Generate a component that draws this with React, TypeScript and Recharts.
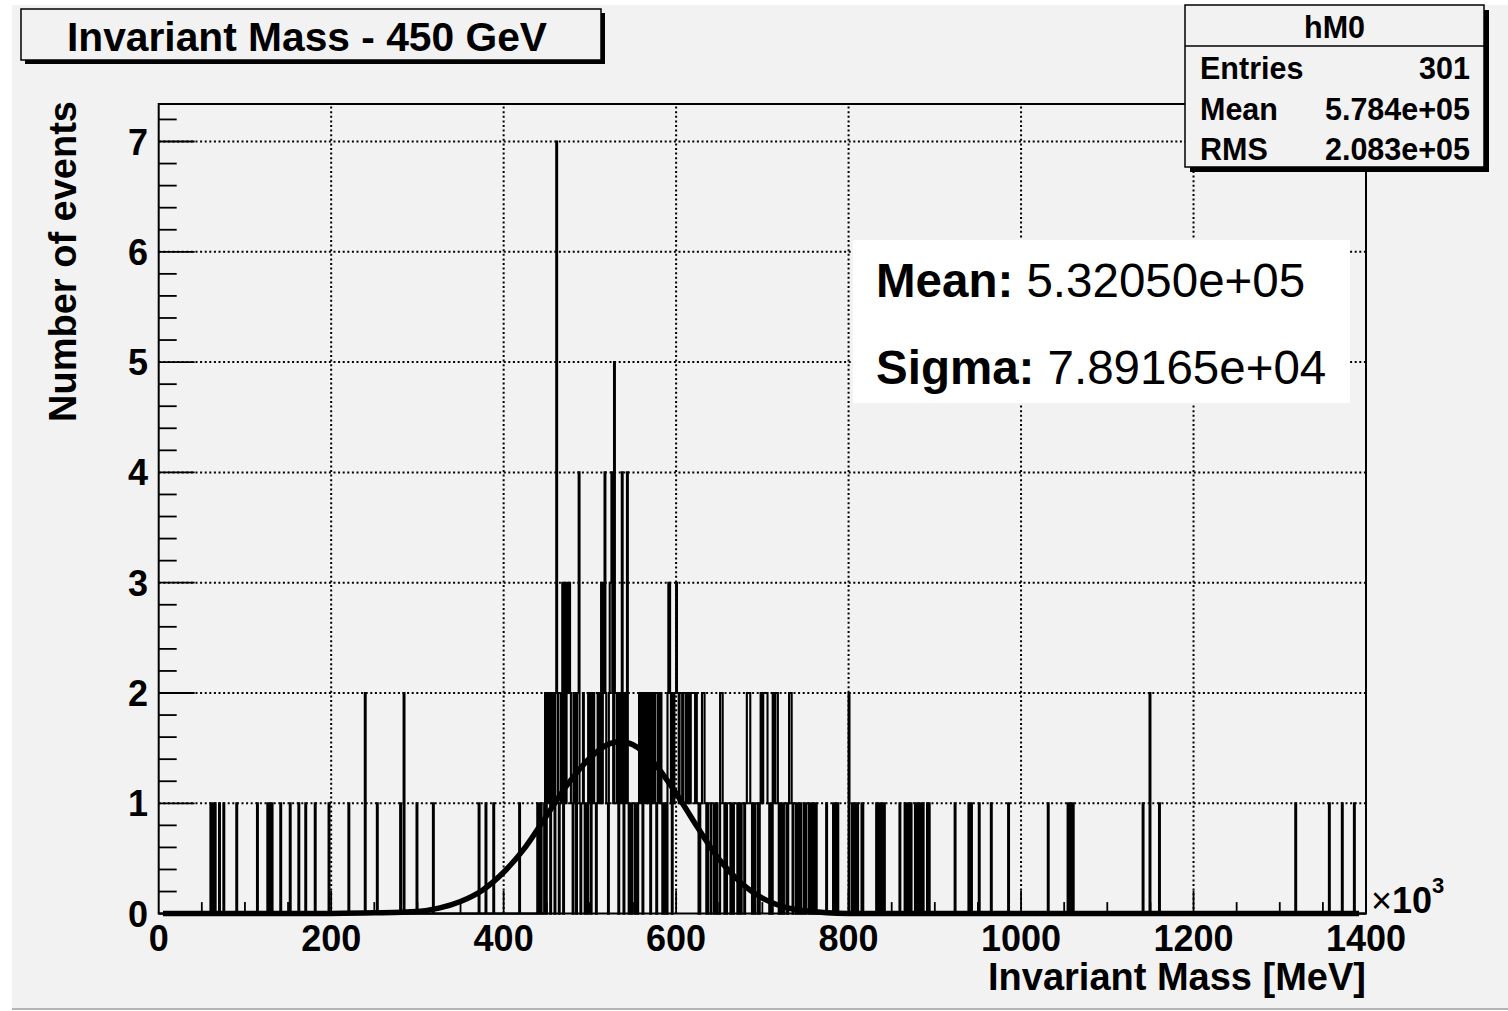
import React from 'react';
import { ComposedChart, Line, XAxis, YAxis, ReferenceLine, ReferenceArea } from 'recharts';

// ---------- data (bin low edge in 10^3 MeV, count) ----------
const tailLow: [number, number][] = [
  [60, 1], [61, 1], [63, 1], [65, 1], [70, 1], [75, 1], [90, 1], [114, 1], [126, 1], [127, 1],
  [129, 1], [131, 1], [141, 1], [152, 1], [162, 1], [170, 1], [181, 1], [197, 1], [220, 1],
  [239, 2], [253, 1], [280, 1], [284, 2], [299, 1], [318, 1], [371, 1], [379, 1], [388, 1], [418, 1],
];
const peakRise: [number, number][] = [
  [439, 1], [440, 1], [442, 1], [443, 1], [447, 1], [448, 2], [450, 2], [451, 1], [452, 2], [453, 2],
  [455, 2], [456, 1], [457, 2], [458, 1], [460, 2], [461, 7], [462, 2], [463, 1], [465, 1], [466, 2],
  [467, 1], [468, 3], [470, 3], [471, 3], [472, 1], [473, 3], [474, 3], [475, 2], [476, 3], [477, 2],
  [478, 1], [479, 1], [481, 2], [482, 2], [483, 1], [485, 2], [486, 2], [487, 4], [488, 1], [490, 1],
  [491, 1], [492, 2], [493, 1], [495, 1], [496, 1], [498, 2], [499, 1], [500, 2], [502, 2], [503, 1],
  [504, 2], [505, 1], [506, 1], [508, 1], [509, 2], [510, 1], [511, 1], [512, 2], [513, 3], [514, 1],
  [515, 2], [516, 3], [517, 4], [518, 2], [519, 1], [520, 1], [522, 2], [523, 3], [524, 3], [525, 4],
  [526, 2], [527, 1], [528, 5], [529, 2],
];
const peakFall: [number, number][] = [
  [530, 2], [531, 1], [532, 2], [534, 2], [535, 1], [536, 2], [537, 4], [538, 1], [540, 2], [541, 1],
  [542, 1], [543, 4], [544, 1], [546, 1], [547, 1], [549, 1], [550, 1], [551, 1], [553, 1], [554, 1],
  [556, 1], [557, 2], [558, 2], [559, 1], [560, 2], [562, 2], [563, 2], [564, 1], [565, 2], [566, 1],
  [567, 2], [568, 2], [569, 1], [571, 2], [572, 2], [573, 1], [574, 2], [575, 2], [576, 1], [578, 1],
  [579, 2], [580, 2], [581, 1], [582, 2], [583, 1], [585, 1], [586, 1], [588, 1], [590, 2], [591, 3],
  [592, 3], [593, 2], [594, 1], [596, 2], [597, 1], [598, 2], [599, 2], [600, 3], [601, 2], [602, 2],
  [603, 1], [604, 2], [605, 2], [606, 2], [607, 1], [608, 2], [609, 2], [610, 2], [611, 1], [612, 1],
  [613, 2], [614, 2], [615, 1], [616, 1], [617, 2], [618, 2], [619, 2], [620, 2], [621, 2], [622, 1],
  [623, 2], [624, 1], [625, 1], [628, 1], [629, 1], [630, 2], [631, 2], [632, 2], [633, 1], [634, 1],
  [637, 1], [638, 1], [639, 1],
];
const shoulder: [number, number][] = [
  [641, 1], [642, 1], [643, 1], [646, 1], [647, 1], [651, 2], [652, 2], [653, 2], [654, 1], [655, 1],
  [657, 1], [659, 1], [660, 1], [661, 1], [662, 1], [665, 1], [667, 1], [668, 1], [669, 1], [670, 1],
  [673, 1], [676, 1], [677, 1], [678, 1], [680, 1], [681, 1], [682, 2], [683, 2], [684, 2], [685, 2],
  [686, 1], [687, 1], [690, 1], [692, 1], [693, 1], [694, 1], [697, 1], [698, 2], [699, 2], [700, 1],
  [701, 2], [702, 2], [703, 2], [704, 2], [705, 2], [706, 1], [707, 1], [710, 1], [712, 2], [713, 2],
  [714, 1], [715, 2], [716, 2], [717, 2], [718, 1], [721, 1], [722, 1], [725, 1], [726, 1], [727, 1],
  [730, 1], [731, 2], [732, 2], [733, 2], [734, 1], [736, 1], [737, 1], [738, 1], [741, 1], [743, 1],
  [744, 1], [748, 1], [751, 1], [752, 1], [753, 1], [756, 1], [758, 1], [759, 1], [762, 1],
];
const tailHigh: [number, number][] = [
  [774, 1], [782, 1], [783, 1], [785, 1], [787, 1], [800, 2], [804, 1], [805, 1], [807, 1], [810, 1],
  [815, 1], [816, 1], [832, 1], [833, 1], [835, 1], [837, 1], [839, 1], [841, 1], [859, 1], [865, 1],
  [866, 1], [868, 1], [870, 1], [872, 1], [877, 1], [880, 1], [881, 1], [883, 1], [886, 1], [891, 1],
  [893, 1], [923, 1], [939, 1], [942, 1], [951, 1], [965, 1], [985, 1], [1031, 1], [1054, 1], [1056, 1],
  [1058, 1], [1060, 1], [1141, 1], [1149, 2], [1160, 1], [1318, 1], [1357, 1], [1372, 1], [1386, 1],
];

// Gaussian fit curve
const fitX = [5, 100, 200, 250, 300, 325, 350, 375, 400, 425, 450, 475, 500, 520, 535, 550, 575, 600, 625, 650, 675, 700, 725, 750, 775, 800, 850, 900, 1000, 1392];
const fitY = [0, 0, 0.002, 0.007, 0.02, 0.05, 0.11, 0.21, 0.375, 0.6, 0.89, 1.18, 1.41, 1.53, 1.56, 1.53, 1.36, 1.09, 0.78, 0.49, 0.28, 0.14, 0.06, 0.025, 0.008, 0.002, 0, 0, 0, 0];

const xMajorTicks = [0, 200, 400, 600, 800, 1000, 1200, 1400];
const xTickLabels = ['0', '200', '400', '600', '800', '1000', '1200', '1400'];
const yMajorTicks = [0, 1, 2, 3, 4, 5, 6, 7];
const yTickLabels = ['0', '1', '2', '3', '4', '5', '6', '7'];

const statsRows = [
  ['Entries', '301'],
  ['Mean', '5.784e+05'],
  ['RMS', '2.083e+05'],
];
const fitMean = '5.32050e+05';
const fitSigma = '7.89165e+04';

// ---------- layout ----------
const W = 1508;
const H = 1011;
const PL = 158.7;
const PR = 1366;
const PT = 104;
const PB = 913.6;
const X_AXIS_H = 30;
const Y_AXIS_W = 60;
const X_MAX = 1400;
const Y_MAX = 7.34;
const FONT = '"Liberation Sans", Arial, Helvetica, sans-serif';
const BG = '#f2f2f2';

const NBINS = 1400;
const counts: number[] = new Array(NBINS).fill(0);
[...tailLow, ...peakRise, ...peakFall, ...shoulder, ...tailHigh].forEach(([b, c]) => {
  counts[b] = c;
});
const histData = counts.map((c, i) => ({ x: i, count: c }));
histData.push({ x: NBINS, count: 0 });
const fitData = fitX.map((x, i) => ({ x, fit: fitY[i] }));

const xAllTicks: number[] = [];
for (let v = 0; v <= X_MAX; v += 50) xAllTicks.push(v);
const yAllTicks: number[] = [];
for (let i = 0; i <= 36; i++) yAllTicks.push(i / 5);

const XTick = (props: any) => {
  const { x, payload } = props;
  const v = payload.value;
  const idx = xMajorTicks.indexOf(v);
  const major = idx >= 0;
  const len = major ? 23 : 11.5;
  return (
    <g>
      {v > 0 && v < X_MAX && (
        <line x1={x} x2={x} y1={PB} y2={PB - len} stroke="#000" strokeWidth={1.8} />
      )}
      {major && (
        <text x={x} y={951} textAnchor="middle" fontSize={36} fontWeight="bold" fontFamily={FONT} fill="#000">
          {xTickLabels[idx]}
        </text>
      )}
    </g>
  );
};

const YTick = (props: any) => {
  const { y, payload } = props;
  const v = payload.value;
  const r = Math.round(v);
  const major = Math.abs(v - r) < 1e-6;
  const len = major ? 36 : 18;
  const idx = major ? yMajorTicks.indexOf(r) : -1;
  return (
    <g>
      {v > 0 && <line x1={PL} x2={PL + len} y1={y} y2={y} stroke="#000" strokeWidth={1.8} />}
      {idx >= 0 && (
        <text x={148} y={y + 13} textAnchor="end" fontSize={36} fontWeight="bold" fontFamily={FONT} fill="#000">
          {yTickLabels[idx]}
        </text>
      )}
    </g>
  );
};

export default function App() {
  return (
    <div style={{ position: 'absolute', left: 0, top: 0, width: W, height: H, background: '#fff', overflow: 'hidden' }}>
      <div style={{ position: 'absolute', left: 12, top: 5, width: W - 12, height: 1003, background: BG, borderBottom: '2px solid #b4b4b4' }} />
      <div style={{ position: 'absolute', left: 0, top: 0 }}>
        <ComposedChart
          width={W}
          height={H}
          data={histData}
          margin={{ top: PT, right: W - PR, bottom: H - PB - X_AXIS_H, left: PL - Y_AXIS_W }}
        >
          <XAxis
            type="number"
            dataKey="x"
            domain={[0, X_MAX]}
            ticks={xAllTicks}
            interval={0}
            height={X_AXIS_H}
            axisLine={false}
            tickLine={false}
            tick={<XTick />}
          />
          <YAxis
            type="number"
            domain={[0, Y_MAX]}
            ticks={yAllTicks}
            interval={0}
            width={Y_AXIS_W}
            axisLine={false}
            tickLine={false}
            tick={<YTick />}
          />
          {xMajorTicks.slice(1, -1).map((v) => (
            <ReferenceLine key={'gx' + v} x={v} stroke="#000" strokeWidth={2} strokeDasharray="2 2.6" />
          ))}
          {yMajorTicks.slice(1).map((v) => (
            <ReferenceLine key={'gy' + v} y={v} stroke="#000" strokeWidth={2} strokeDasharray="2 2.6" />
          ))}
          <Line
            dataKey="count"
            type="stepAfter"
            stroke="#000"
            strokeWidth={2.1}
            dot={false}
            activeDot={false}
            isAnimationActive={false}
          />
          <Line
            data={fitData}
            dataKey="fit"
            type="monotone"
            stroke="#000"
            strokeWidth={5.5}
            dot={false}
            activeDot={false}
            isAnimationActive={false}
          />
          <ReferenceArea
            x1={0}
            x2={X_MAX}
            y1={0}
            y2={Y_MAX}
            fill="none"
            fillOpacity={0}
            stroke="#000"
            strokeWidth={2}
            ifOverflow="visible"
          />
        </ComposedChart>
      </div>
      <svg width={W} height={H} style={{ position: 'absolute', left: 0, top: 0, pointerEvents: 'none' }} fontFamily={FONT}>
        {/* title box */}
        <rect x={25} y={13} width={580} height={51} fill="#000" />
        <rect x={21} y={9} width={580} height={51} fill={BG} stroke="#000" strokeWidth={1.5} />
        <text x={307} y={51} textAnchor="middle" fontSize={40} fontWeight="bold" textLength={480} lengthAdjust="spacingAndGlyphs">
          Invariant Mass - 450 GeV
        </text>

        {/* stats box */}
        <rect x={1190} y={10} width={299} height={162} fill="#000" />
        <rect x={1185} y={5} width={299} height={162} fill={BG} stroke="#000" strokeWidth={1.5} />
        <line x1={1185} x2={1484} y1={46} y2={46} stroke="#000" strokeWidth={1.5} />
        <text x={1334.5} y={38} textAnchor="middle" fontSize={30.5} fontWeight="bold">hM0</text>
        {statsRows.map((r, i) => (
          <g key={r[0]}>
            <text x={1200} y={79 + i * 40.5} fontSize={30.5} fontWeight="bold">{r[0]}</text>
            <text x={1470} y={79 + i * 40.5} fontSize={30.5} fontWeight="bold" textAnchor="end">{r[1]}</text>
          </g>
        ))}

        {/* fit result box */}
        <rect x={853} y={240} width={497} height={163} fill="#fff" />
        <text x={876} y={297} fontSize={47.5}>
          <tspan fontWeight="bold">Mean:</tspan> {fitMean}
        </text>
        <text x={876} y={384} fontSize={47.5}>
          <tspan fontWeight="bold">Sigma:</tspan> {fitSigma}
        </text>

        {/* axis titles */}
        <text x={1366} y={990} textAnchor="end" fontSize={38} fontWeight="bold">Invariant Mass [MeV]</text>
        <text x={76} y={101} textAnchor="end" fontSize={38} fontWeight="bold" transform="rotate(-90 76 101)">
          Number of events
        </text>
        <text x={1371} y={913} fontSize={36}>
          ×<tspan fontWeight="bold">10</tspan>
          <tspan fontWeight="bold" fontSize={22} dy={-20}>3</tspan>
        </text>
      </svg>
    </div>
  );
}
